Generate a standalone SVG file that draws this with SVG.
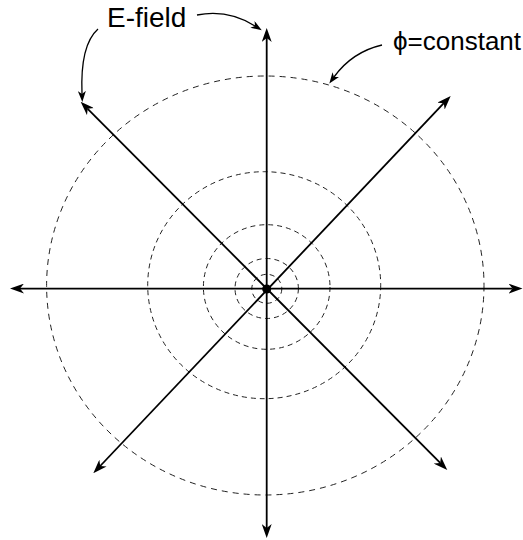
<svg xmlns="http://www.w3.org/2000/svg" width="523" height="540" viewBox="0 0 523 540">
<defs>
<style>
.axis{stroke:#000;stroke-width:1.8;fill:none;marker-end:url(#ah);marker-start:url(#ah)}
.eq{stroke:#222;stroke-width:1;fill:none;stroke-dasharray:5 4}
.eqL{stroke:#222;stroke-width:1;fill:none;stroke-dasharray:6 5}
.call{stroke:#000;stroke-width:1.3;fill:none;marker-end:url(#sh)}
.lbl{font-family:"Liberation Sans",Arial,sans-serif;font-size:26px;fill:#000}
</style>
<marker id="ah" markerUnits="userSpaceOnUse" viewBox="0 0 14 10" refX="4" refY="5" markerWidth="14" markerHeight="10" orient="auto-start-reverse">
<path d="M0,0 L14,5 L0,10 L4,5 Z" fill="#000"/>
</marker>
<marker id="sh" markerUnits="userSpaceOnUse" viewBox="0 0 11 8" refX="3" refY="4" markerWidth="11" markerHeight="8" orient="auto">
<path d="M0,0 L11,4 L0,8 L3,4 Z" fill="#000"/>
</marker>
</defs>
<g id="equipotentials">
<ellipse class="eq" cx="266.8" cy="288.8" rx="15" ry="14.5"/>
<ellipse class="eq" cx="266.7" cy="288.5" rx="31.7" ry="30"/>
<ellipse class="eq" cx="266.7" cy="287" rx="63.3" ry="62.3"/>
<ellipse class="eq" cx="264.2" cy="285.2" rx="116.5" ry="113.5"/>
<ellipse class="eqL" cx="265.3" cy="285.5" rx="218.7" ry="209.5"/>
</g>
<g id="connectors">
<line class="axis" x1="266.7" y1="38" x2="266.7" y2="528"/>
<line class="axis" x1="20" y1="288.6" x2="512.5" y2="288.6"/>
<line class="axis" x1="87.7" y1="108.8" x2="440.2" y2="462.9"/>
<line class="axis" x1="443.8" y1="103.2" x2="100.2" y2="466"/>
<path class="call" d="M197,15 Q228,9 255,26"/>
<path class="call" d="M98,29 Q80,45 82,94"/>
<path class="call" d="M382,45 Q352,52 334,77"/>
</g>
<g id="charge">
<circle cx="266.7" cy="289" r="4.5" fill="#000"/>
</g>
<g id="label-efield">
<text class="lbl" x="107" y="27" style="font-size:28px">E-field</text>
</g>
<g id="label-phi">
<text class="lbl" x="393" y="50">ϕ=constant</text>
</g>
</svg>
